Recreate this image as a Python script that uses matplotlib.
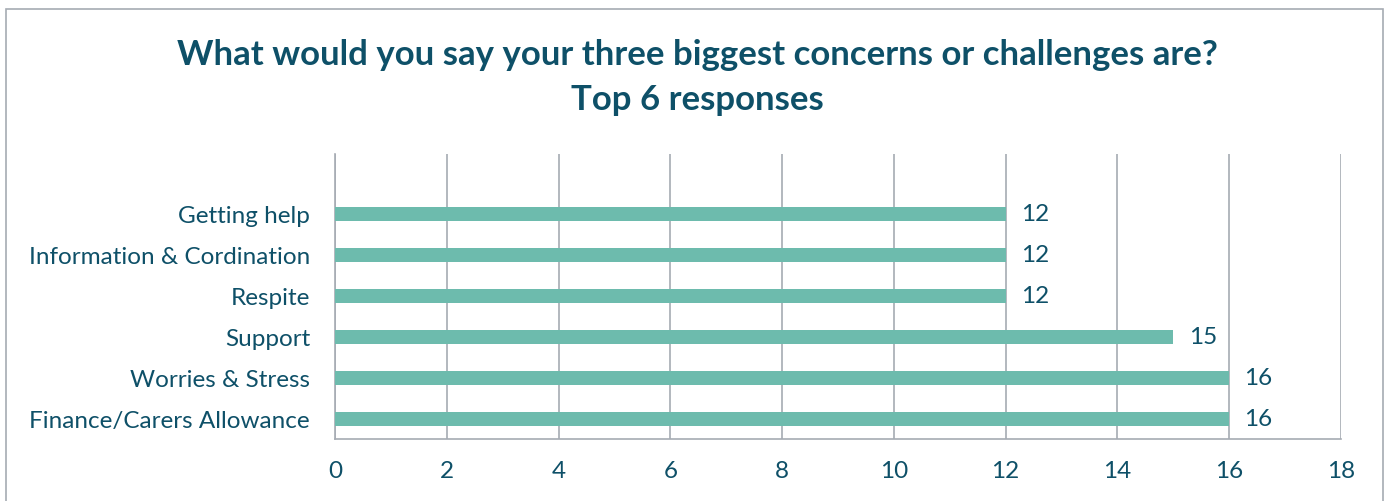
import matplotlib
matplotlib.use("Agg")
import matplotlib.pyplot as plt
from matplotlib.patches import Rectangle

categories = ["Finance/Carers Allowance", "Worries & Stress", "Support",
              "Respite", "Information & Cordination", "Getting help"]
values = [16, 16, 15, 12, 12, 12]
xticks = [0, 2, 4, 6, 8, 10, 12, 14, 16, 18]
title_lines = ["What would you say your three biggest concerns or challenges are?",
               "Top 6 responses"]

TEXT = "#0E5068"
BAR = "#6DBBAD"
GRID = "#A6ABB3"
FONT = "Lato"

plt.rcParams['font.family'] = [FONT, 'DejaVu Sans']

fig = plt.figure(figsize=(13.85, 5.02), dpi=100)
W, H = 1385, 502
# outer border
fig.patches.append(Rectangle((6 / W, -0.1), (1383 - 6) / W, 1 - 10 / H + 0.1,
                             transform=fig.transFigure, fill=False,
                             edgecolor=GRID, linewidth=1.2))

ax = fig.add_axes([335 / W, 1 - 440 / H, (1341 - 335) / W, (440 - 155) / H])
y = list(range(len(categories)))
ax.barh(y, values, height=0.34, color=BAR, zorder=3)
ax.set_xlim(0, 18)
ax.set_ylim(-0.49, 6.46)
ax.set_xticks(xticks)
ax.set_xticklabels([str(t) for t in xticks])
ax.set_yticks(y)
ax.set_yticklabels(categories)
ax.tick_params(axis='both', length=0, colors=TEXT, labelsize=17.5)
ax.tick_params(axis='x', pad=15)
ax.tick_params(axis='y', pad=18)
ax.grid(axis='x', color=GRID, linewidth=1.2, zorder=0)
for s in ['top', 'right']:
    ax.spines[s].set_visible(False)
ax.spines['left'].set_color(GRID)
ax.spines['bottom'].set_color(GRID)
ax.spines['left'].set_linewidth(1.2)
ax.spines['bottom'].set_linewidth(1.2)

for yi, v in zip(y, values):
    ax.annotate(str(v), (v, yi), xytext=(11, 0), textcoords='offset points',
                va='center', ha='left', color=TEXT, fontsize=17.5)

fig.text(697 / W, 1 - 55 / H, title_lines[0], ha='center', va='center', color=TEXT,
         fontsize=25, fontweight='bold')
fig.text(697 / W, 1 - 100 / H, title_lines[1], ha='center', va='center', color=TEXT,
         fontsize=25, fontweight='bold')

fig.savefig("out.png", dpi=100)
